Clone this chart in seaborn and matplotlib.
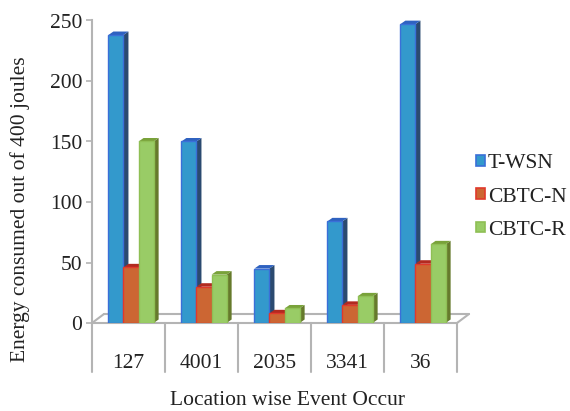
import matplotlib
matplotlib.use("Agg")
import matplotlib.pyplot as plt
from matplotlib.patches import Polygon, Patch
import seaborn as sns
import pandas as pd

# Energy consumed (out of 400 J) per event location
locations = ["127", "4001", "2035", "3341", "36"]
series = ["T-WSN", "CBTC-N", "CBTC-R"]
t_wsn = [238, 150, 45, 84, 247]
cbtc_n = [46, 30, 8, 15, 49]
cbtc_r = [150, 40, 12, 22, 65]
y_ticks = [0, 50, 100, 150, 200, 250]

face_colors = ["#3399CC", "#CC6633", "#99CC66"]
edge_colors = ["#3a6fd8", "#e0392b", "#8fbf55"]
side_colors = ["#2b4a70", "#8a2e1c", "#667a2c"]
top_colors = ["#2f62c0", "#b22a20", "#79a23a"]

df = pd.DataFrame({
    "location": locations * 3,
    "series": [s for s in series for _ in locations],
    "energy": t_wsn + cbtc_n + cbtc_r,
})

sns.set_style("white")
plt.rcParams["font.family"] = ["Liberation Serif", "DejaVu Serif"]
FS = 15.5
TXT = "#222222"

W, H = 570, 411
fig = plt.figure(figsize=(W / 100, H / 100), dpi=100)
ax_left, ax_right, ax_bottom, ax_top = 92, 457, 323, 20.5
ax = fig.add_axes([ax_left / W, 1 - ax_bottom / H,
                   (ax_right - ax_left) / W, (ax_bottom - ax_top) / H])

sns.barplot(data=df, x="location", y="energy", hue="series",
            palette=face_colors, width=0.62, ax=ax, legend=False,
            order=locations, hue_order=series, saturation=1)

ax.set_xlim(-0.5, 4.5)
ax.set_ylim(0, 250)

# pixel -> data conversions
px_x = 5 / (ax_right - ax_left)
px_y = 250 / (ax_bottom - ax_top)

bars = list(ax.patches)
n = len(locations)
depth_dx, depth_dy = 5 * px_x, 3.5 * px_y
for i, bar in enumerate(bars):
    k = i // n
    bar.set_x(bar.get_x() + 2.5 * px_x)
    bar.set_edgecolor(edge_colors[k])
    bar.set_linewidth(1.0)
    bar.set_zorder(3)
    x0 = bar.get_x()
    x1 = x0 + bar.get_width()
    h = bar.get_height()
    side = Polygon([(x1, 0), (x1 + depth_dx, depth_dy),
                    (x1 + depth_dx, h + depth_dy), (x1, h)],
                   closed=True, facecolor=side_colors[k], edgecolor="none",
                   zorder=2.9)
    top = Polygon([(x0, h), (x1, h), (x1 + depth_dx, h + depth_dy),
                   (x0 + depth_dx, h + depth_dy)],
                  closed=True, facecolor=top_colors[k], edgecolor="none",
                  zorder=2.9)
    ax.add_patch(side)
    ax.add_patch(top)

# floor of the 3-D plot area
grey = "#b4b4b4"
fdx, fdy = 12 * px_x, 9 * px_y
floor_kw = dict(color=grey, lw=1.5, clip_on=False, zorder=1)
ax.plot([-0.5, -0.5 + fdx], [0, fdy], **floor_kw)
ax.plot([-0.5 + fdx, 4.5 + fdx], [fdy, fdy], **floor_kw)
ax.plot([4.5, 4.5 + fdx], [0, fdy], **floor_kw)
ax.plot([-0.5, 4.5], [0, 0], **floor_kw)

# category table below the floor
table_depth = 49 * px_y
for b in range(n + 1):
    ax.plot([b - 0.5, b - 0.5], [0, -table_depth], color=grey, lw=1.5,
            clip_on=False, zorder=1)

sns.despine(ax=ax, top=True, right=True, bottom=True, left=False)
ax.spines["left"].set_color(grey)
ax.spines["left"].set_linewidth(1.5)
ax.set_yticks(y_ticks)
ax.tick_params(axis="y", which="major", length=4, width=1.2, color=grey,
               labelsize=FS, labelcolor=TXT, pad=3, left=True)
ax.set_xticks(range(n))
ax.set_xticklabels(locations)
ax.tick_params(axis="x", length=0, labelsize=FS, labelcolor=TXT, pad=22)
ax.set_xlabel("")
ax.set_ylabel("")
ax.grid(False)

fig.text(288 / W, 1 - 400 / H, "Location wise Event Occur",
         ha="center", va="center", fontsize=FS, color=TXT)
fig.text(20 / W, 1 - 209 / H, "Energy consumed out of 400 joules",
         ha="center", va="center", rotation=90, fontsize=FS, color=TXT)

handles = [Patch(facecolor=face_colors[k], edgecolor=edge_colors[k], lw=1.2)
           for k in range(3)]
fig.legend(handles, series, loc="center left",
           bbox_to_anchor=(476 / W, 1 - 197 / H), frameon=False,
           fontsize=FS, labelcolor=TXT, handlelength=0.4, handleheight=0.4,
           handletextpad=0.15, labelspacing=0.66, borderaxespad=0,
           borderpad=0)

fig.savefig("out.png", dpi=100, facecolor="white")
